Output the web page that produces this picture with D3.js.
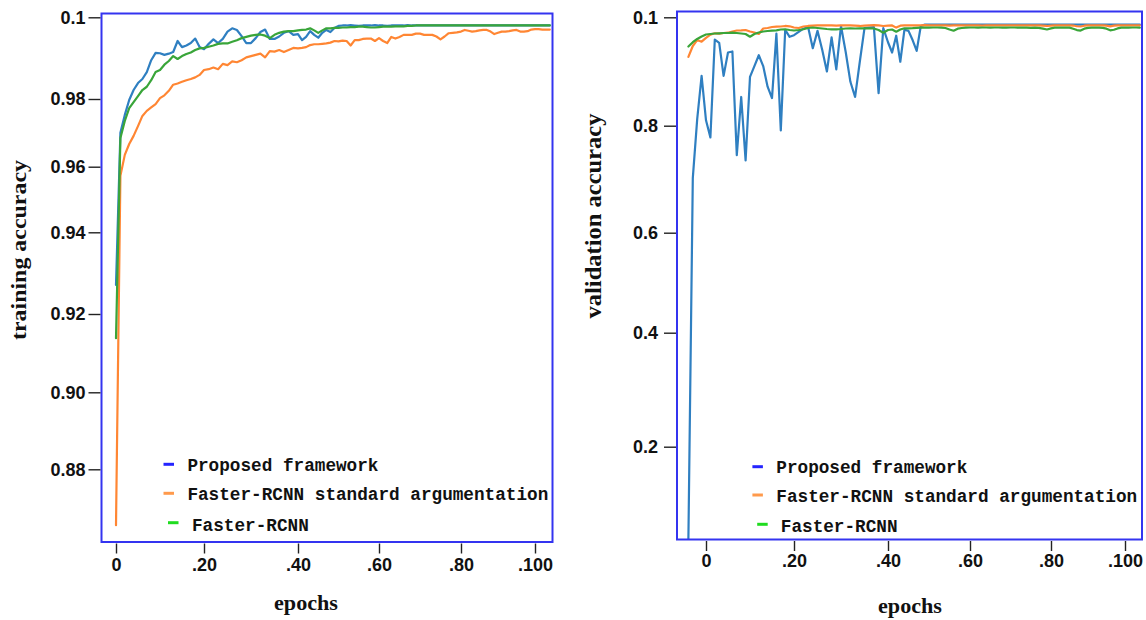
<!DOCTYPE html>
<html><head><meta charset="utf-8">
<script src="https://cdn.jsdelivr.net/npm/d3@7"></script>
<style>
body{margin:0;background:#fff;}
svg{display:block;}
</style></head><body>
<svg id="chart" width="1146" height="620"></svg>
<script>
// ---------------- DATA ----------------
const seriesNames = ["Proposed framework", "Faster-RCNN standard argumentation", "Faster-RCNN"];
const epochTickValues = [0, 20, 40, 60, 80, 100];
const epochTickLabels = ["0", ".20", ".40", ".60", ".80", ".100"];
const trainTickValues = [0.88, 0.90, 0.92, 0.94, 0.96, 0.98, 1.00];
const trainTickLabels = ["0.88", "0.90", "0.92", "0.94", "0.96", "0.98", "0.1"];
const valTickValues = [0.2, 0.4, 0.6, 0.8, 1.0];
const valTickLabels = ["0.2", "0.4", "0.6", "0.8", "0.1"];
const trainEpochs = d3.range(0, 105);
const valEpochs = d3.range(-4, 105);

const trainProposed = [
  0.9271, 0.9700, 0.9753, 0.9797, 0.9822, 0.9839, 0.9849, 0.9866, 0.9895, 0.9913,
  0.9912, 0.9908, 0.9911, 0.9915, 0.9942, 0.9927, 0.9931, 0.9937, 0.9948, 0.9927,
  0.9922, 0.9935, 0.9946, 0.9937, 0.9947, 0.9965, 0.9973, 0.9969, 0.9954, 0.9937,
  0.9937, 0.9949, 0.9964, 0.9970, 0.9947, 0.9947, 0.9953, 0.9962, 0.9966, 0.9957,
  0.9959, 0.9944, 0.9952, 0.9966, 0.9957, 0.9950, 0.9962, 0.9969, 0.9964, 0.9974,
  0.9979, 0.9980, 0.9980, 0.9981, 0.9980, 0.9979, 0.9980, 0.9980, 0.9980, 0.9981,
  0.9980, 0.9980, 0.9979, 0.9980, 0.9980, 0.9980, 0.9980, 0.9981, 0.9980, 0.9980,
  0.9980, 0.9980, 0.9980, 0.9980, 0.9980, 0.9980, 0.9980, 0.9980, 0.9980, 0.9980,
  0.9980, 0.9980, 0.9980, 0.9980, 0.9980, 0.9980, 0.9980, 0.9980, 0.9980, 0.9980,
  0.9980, 0.9980, 0.9980, 0.9980, 0.9980, 0.9980, 0.9980, 0.9980, 0.9980, 0.9980,
  0.9980, 0.9980, 0.9980, 0.9980, 0.9980
];
const trainStdAug = [
  0.8655, 0.9572, 0.9635, 0.9667, 0.9691, 0.9720, 0.9750, 0.9765, 0.9775, 0.9785,
  0.9802, 0.9809, 0.9820, 0.9835, 0.9838, 0.9842, 0.9846, 0.9849, 0.9853, 0.9859,
  0.9871, 0.9873, 0.9877, 0.9873, 0.9886, 0.9883, 0.9892, 0.9890, 0.9895, 0.9902,
  0.9905, 0.9908, 0.9911, 0.9902, 0.9917, 0.9916, 0.9920, 0.9915, 0.9920, 0.9925,
  0.9924, 0.9925, 0.9927, 0.9932, 0.9934, 0.9934, 0.9935, 0.9936, 0.9938, 0.9942,
  0.9941, 0.9943, 0.9942, 0.9931, 0.9944, 0.9944, 0.9947, 0.9948, 0.9948, 0.9942,
  0.9949, 0.9942, 0.9937, 0.9952, 0.9948, 0.9952, 0.9957, 0.9957, 0.9957, 0.9960,
  0.9960, 0.9957, 0.9957, 0.9957, 0.9953, 0.9946, 0.9953, 0.9961, 0.9962, 0.9963,
  0.9965, 0.9969, 0.9967, 0.9965, 0.9966, 0.9968, 0.9969, 0.9969, 0.9965, 0.9959,
  0.9962, 0.9965, 0.9965, 0.9966, 0.9968, 0.9969, 0.9965, 0.9965, 0.9966, 0.9970,
  0.9971, 0.9971, 0.9970, 0.9970, 0.9970
];
const trainFaster = [
  0.9138, 0.9685, 0.9735, 0.9773, 0.9791, 0.9807, 0.9822, 0.9830, 0.9846, 0.9866,
  0.9871, 0.9884, 0.9893, 0.9905, 0.9898, 0.9905, 0.9910, 0.9914, 0.9920, 0.9924,
  0.9925, 0.9928, 0.9931, 0.9935, 0.9936, 0.9936, 0.9940, 0.9944, 0.9949, 0.9952,
  0.9955, 0.9957, 0.9958, 0.9955, 0.9949, 0.9957, 0.9962, 0.9965, 0.9966, 0.9966,
  0.9968, 0.9969, 0.9970, 0.9973, 0.9968, 0.9962, 0.9968, 0.9973, 0.9973, 0.9974,
  0.9974, 0.9975, 0.9975, 0.9976, 0.9976, 0.9977, 0.9977, 0.9976, 0.9975, 0.9975,
  0.9976, 0.9977, 0.9977, 0.9977, 0.9978, 0.9978, 0.9978, 0.9979, 0.9979, 0.9980,
  0.9980, 0.9980, 0.9980, 0.9980, 0.9980, 0.9980, 0.9980, 0.9980, 0.9980, 0.9980,
  0.9980, 0.9980, 0.9980, 0.9980, 0.9980, 0.9980, 0.9980, 0.9980, 0.9980, 0.9980,
  0.9980, 0.9980, 0.9980, 0.9980, 0.9980, 0.9980, 0.9980, 0.9980, 0.9980, 0.9980,
  0.9980, 0.9980, 0.9980, 0.9980, 0.9980
];

const valProposed = [
  0.038, 0.702, 0.812, 0.892, 0.810, 0.778, 0.959, 0.953, 0.892, 0.935,
  0.937, 0.745, 0.853, 0.735, 0.890, 0.910, 0.930, 0.910, 0.872, 0.851,
  0.970, 0.791, 0.977, 0.964, 0.967, 0.973, 0.979, 0.982, 0.943, 0.975,
  0.940, 0.900, 0.963, 0.904, 0.984, 0.936, 0.881, 0.853, 0.918, 0.980,
  0.981, 0.982, 0.860, 0.980, 0.954, 0.935, 0.966, 0.918, 0.977, 0.975,
  0.958, 0.938, 0.984, 0.9865, 0.9865, 0.9866, 0.9865, 0.9864, 0.9865, 0.9866,
  0.9865, 0.9865, 0.9865, 0.9866, 0.9865, 0.9865, 0.9864, 0.9865, 0.9865, 0.9866,
  0.9865, 0.9865, 0.9865, 0.9865, 0.9866, 0.9865, 0.9865, 0.9865, 0.9864, 0.9865,
  0.9865, 0.9866, 0.9865, 0.9865, 0.9865, 0.9865, 0.9865, 0.9866, 0.9865, 0.9865,
  0.9865, 0.9865, 0.9864, 0.9865, 0.9865, 0.9866, 0.9865, 0.9865, 0.9865, 0.9865,
  0.9865, 0.9865, 0.9866, 0.9865, 0.9865, 0.9865, 0.9865, 0.9865, 0.9865
];
const valStdAug = [
  0.927, 0.947, 0.958, 0.955, 0.962, 0.968, 0.9705, 0.970, 0.971, 0.9716,
  0.9738, 0.9756, 0.976, 0.9766, 0.9738, 0.972, 0.9692, 0.9793, 0.9803, 0.9821,
  0.9827, 0.983, 0.984, 0.9834, 0.9812, 0.9803, 0.983, 0.984, 0.9845, 0.985,
  0.985, 0.9852, 0.985, 0.9848, 0.985, 0.9852, 0.985, 0.9845, 0.984, 0.9848,
  0.9852, 0.9855, 0.985, 0.984, 0.9848, 0.985, 0.981, 0.9845, 0.985, 0.9852,
  0.9852, 0.985, 0.9852, 0.9855, 0.9852, 0.985, 0.9852, 0.9852, 0.985, 0.9848,
  0.985, 0.9852, 0.9852, 0.985, 0.9852, 0.9852, 0.985, 0.9845, 0.985, 0.9852,
  0.9852, 0.985, 0.9852, 0.9852, 0.985, 0.9852, 0.9852, 0.985, 0.9852, 0.985,
  0.9852, 0.985, 0.9845, 0.984, 0.9848, 0.9852, 0.985, 0.9852, 0.9852, 0.985,
  0.9848, 0.9835, 0.983, 0.9845, 0.985, 0.9852, 0.9852, 0.985, 0.9852, 0.9845,
  0.9832, 0.9845, 0.985, 0.9852, 0.985, 0.9852, 0.9852, 0.985, 0.9852
];
const valFaster = [
  0.946, 0.954, 0.960, 0.9646, 0.9683, 0.9692, 0.9701, 0.9705, 0.971, 0.971,
  0.9716, 0.971, 0.9701, 0.9692, 0.9642, 0.9692, 0.972, 0.9738, 0.9747, 0.9753,
  0.976, 0.9775, 0.9779, 0.9766, 0.9756, 0.9766, 0.9779, 0.9803, 0.9812, 0.9803,
  0.9793, 0.9784, 0.9779, 0.9779, 0.9784, 0.9793, 0.9797, 0.9793, 0.9797, 0.9797,
  0.9797, 0.9793, 0.9766, 0.9716, 0.9766, 0.9775, 0.9734, 0.9775, 0.9797, 0.9797,
  0.980, 0.9805, 0.9808, 0.981, 0.981, 0.9812, 0.9812, 0.981, 0.9803, 0.9775,
  0.9753, 0.979, 0.9803, 0.981, 0.9812, 0.9812, 0.981, 0.9812, 0.9812, 0.981,
  0.9812, 0.9812, 0.9808, 0.981, 0.9812, 0.9812, 0.981, 0.9812, 0.981, 0.9805,
  0.981, 0.9805, 0.979, 0.9775, 0.9795, 0.981, 0.9812, 0.981, 0.9812, 0.981,
  0.979, 0.9765, 0.9755, 0.979, 0.9805, 0.981, 0.9812, 0.981, 0.9805, 0.979,
  0.976, 0.977, 0.9795, 0.981, 0.9812, 0.981, 0.9812, 0.9812, 0.981
];

// ---------------- STYLE / LAYOUT ----------------
const lineColors = ["#2f7fc1", "#ff8633", "#39a539"];
const legendColors = ["#2424ff", "#ff9a4c", "#1fdc1f"];
const frameColor = "#3434f0";
const svg = d3.select("#chart");

function drawPanel(p) {
  const x = d3.scaleLinear().domain(epochTickValues).range(p.xPos);
  const y = d3.scaleLinear().domain(p.yTicks).range(p.yPos);
  const g = svg.append("g");

  g.append("clipPath").attr("id", "clip-" + p.id)
    .append("rect").attr("x", p.left).attr("y", p.top)
    .attr("width", p.right - p.left).attr("height", p.bottom - p.top);

  const line = d3.line().x((d, i) => x(p.epochs[i])).y(d => y(d));
  const lg = g.append("g").attr("clip-path", `url(#clip-${p.id})`);
  p.series.forEach((s, k) => {
    lg.append("path").datum(s).attr("d", line)
      .attr("fill", "none").attr("stroke", lineColors[k])
      .attr("stroke-width", 2.2).attr("stroke-linejoin", "round").attr("stroke-linecap", "round");
  });

  g.append("rect").attr("x", p.left).attr("y", p.top)
    .attr("width", p.right - p.left).attr("height", p.bottom - p.top)
    .attr("fill", "none").attr("stroke", frameColor).attr("stroke-width", 2);

  // y axis
  const yAxis = d3.axisLeft(y).tickValues(p.yTicks)
    .tickFormat((d, i) => p.yLabels[i]).tickSize(12).tickPadding(p.yPad);
  const ya = g.append("g").attr("transform", `translate(${p.left - 1},0)`).call(yAxis);
  ya.select(".domain").remove();
  ya.selectAll(".tick line").attr("stroke", "#222").attr("stroke-width", 1.4);
  ya.selectAll(".tick text").attr("fill", "#111")
    .style("font-family", "'Liberation Sans', Arial, sans-serif")
    .style("font-weight", "bold").style("font-size", "18px");

  // x axis
  const xAxis = d3.axisBottom(x).tickValues(epochTickValues)
    .tickFormat((d, i) => epochTickLabels[i]).tickSize(10).tickPadding(p.xPad);
  const xa = g.append("g").attr("transform", `translate(0,${p.bottom + 1.5})`).call(xAxis);
  xa.select(".domain").remove();
  xa.selectAll(".tick line").attr("stroke", "#222").attr("stroke-width", 1.4);
  xa.selectAll(".tick text").attr("fill", "#111")
    .style("font-family", "'Liberation Sans', Arial, sans-serif")
    .style("font-weight", "bold").style("font-size", "18px");

  // titles
  g.append("text").text(p.yTitle)
    .attr("transform", `translate(${p.yTitleX},${p.yTitleY}) rotate(-90)`)
    .attr("text-anchor", "middle")
    .attr("textLength", p.yTitleLen).attr("lengthAdjust", "spacingAndGlyphs")
    .style("font-family", "'Liberation Serif', 'Times New Roman', serif")
    .style("font-weight", "bold").style("font-size", p.yTitleSize + "px").attr("fill", "#111");
  g.append("text").text("epochs")
    .attr("x", p.xTitleX).attr("y", p.xTitleY).attr("text-anchor", "middle")
    .attr("textLength", 64).attr("lengthAdjust", "spacingAndGlyphs")
    .style("font-family", "'Liberation Serif', 'Times New Roman', serif")
    .style("font-weight", "bold").style("font-size", "20px").attr("fill", "#111");

  // legend
  seriesNames.forEach((name, k) => {
    const row = p.legend[k];
    g.append("line").attr("x1", row.dx).attr("x2", row.dx + 10.5)
      .attr("y1", row.dy).attr("y2", row.dy)
      .attr("stroke", legendColors[k]).attr("stroke-width", 3);
    g.append("text").text(name).attr("x", row.tx).attr("y", row.ty)
      .style("font-family", "'Liberation Mono', 'Courier New', monospace")
      .style("font-weight", "bold").style("font-size", "17.7px").attr("fill", "#111");
  });
}

drawPanel({
  id: "train", left: 101.5, right: 552.5, top: 13.5, bottom: 542,
  xPos: [116, 204, 298, 379, 461, 535],
  yTicks: trainTickValues, yLabels: trainTickLabels,
  yPos: [469.3, 392.3, 314, 232.3, 166.7, 99, 17.3],
  epochs: trainEpochs, series: [trainProposed, trainStdAug, trainFaster],
  yPad: 3, xPad: 5,
  yTitle: "training accuracy", yTitleX: 26, yTitleY: 250, yTitleLen: 180, yTitleSize: 21,
  xTitleX: 306, xTitleY: 610,
  legend: [
    {dx: 163.5, dy: 464.3, tx: 187.4, ty: 471},
    {dx: 163.5, dy: 493.3, tx: 187.4, ty: 500},
    {dx: 168, dy: 522.7, tx: 192, ty: 530.5}
  ]
});

drawPanel({
  id: "val", left: 677, right: 1142, top: 11.5, bottom: 539.5,
  xPos: [706, 794, 888, 970, 1051, 1125],
  yTicks: valTickValues, yLabels: valTickLabels,
  yPos: [446.7, 332.7, 232.7, 125.7, 17.3],
  epochs: valEpochs, series: [valProposed, valStdAug, valFaster],
  yPad: 6, xPad: 3,
  yTitle: "validation accuracy", yTitleX: 601, yTitleY: 216, yTitleLen: 205, yTitleSize: 24,
  xTitleX: 910, xTitleY: 612.5,
  legend: [
    {dx: 752.4, dy: 466.7, tx: 776.3, ty: 473},
    {dx: 752.4, dy: 495, tx: 776.3, ty: 502},
    {dx: 757.2, dy: 524.3, tx: 780.8, ty: 532}
  ]
});
</script>
</body></html>
